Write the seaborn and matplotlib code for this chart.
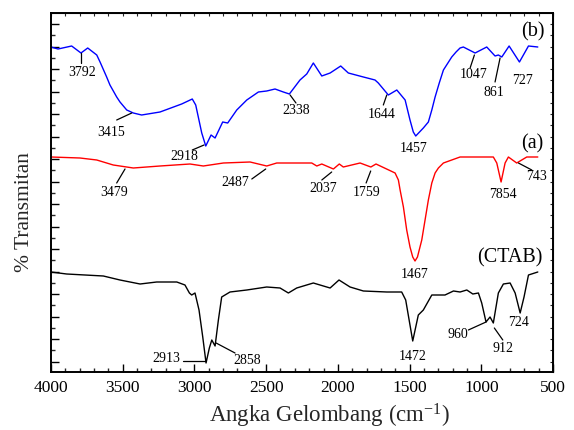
import numpy as np
import pandas as pd
import matplotlib
matplotlib.use('Agg')
import matplotlib.pyplot as plt
import seaborn as sns
from matplotlib.ticker import MultipleLocator, FixedLocator, NullFormatter

# ---- data (wavenumber cm-1, relative transmittance, arbitrary units) ----
wn_b = [4000, 3951, 3856, 3791, 3744, 3681, 3658, 3612, 3589, 3542, 3519, 3472,
        3426, 3368, 3240, 3089,
        3015, 2991, 2949, 2921, 2884, 2856, 2803, 2768, 2705, 2635, 2554, 2496,
        2438, 2380, 2338, 2264, 2217, 2171, 2112, 2054, 1980, 1927, 1822, 1741,
        1718, 1648, 1589, 1531, 1497, 1474, 1457, 1404, 1369, 1345, 1322, 1293,
        1264, 1206, 1176, 1148,
        1125, 1043, 962, 904, 881, 857, 806, 734, 671, 606]
t_b = [325, 323, 326, 319, 324, 317, 310, 295, 287, 275, 270, 262,
       259, 257, 260, 268,
       273, 267, 239, 226, 237, 234, 250, 249, 262, 272, 280, 281,
       283, 280, 278, 292, 298, 309, 296, 299, 306, 299, 295, 292,
       289, 277, 282, 272, 252, 240, 236, 244, 250, 262, 275, 289,
       302, 315, 320, 324,
       325, 319, 325, 316, 317, 315, 326, 310, 326, 325]

wn_a = [4000, 3798, 3681, 3566, 3426, 3240, 3031, 2938, 2798, 2612, 2496, 2426,
        2264, 2182, 2147, 2112, 2031, 1990, 1962, 1845, 1770, 1734, 1601, 1578,
        1566, 1543, 1520, 1497, 1478, 1462, 1445, 1415, 1392, 1369, 1345, 1322,
        1299, 1264, 1148, 916, 892, 862, 834, 811, 753, 683, 606]
t_a = [215, 214, 212, 207, 204, 206, 208, 206, 209, 210, 206, 209,
       209, 209, 206, 208, 203, 208, 205, 209, 205, 208, 199, 192,
       182, 165, 142, 125, 115, 111, 115, 132, 152, 172, 189, 199,
       204, 209, 215, 215, 209, 190, 209, 215, 209, 215, 215]

wn_c = [4000, 3891, 3635, 3519, 3379, 3263, 3123, 3066, 3035, 3019, 2996, 2968,
        2942, 2919, 2896, 2879, 2856, 2833, 2810, 2752, 2635, 2496, 2403, 2345,
        2287, 2171, 2054, 1992, 1915, 1822, 1659, 1555, 1527, 1478, 1439, 1404,
        1345, 1253, 1194, 1148, 1101, 1059, 1020, 997, 967, 939, 916, 881, 846,
        799, 764, 729, 702, 671, 606]
t_c = [100, 98, 96, 92, 88, 90, 90, 87, 79, 77, 79, 62,
       35, 9, 24, 32, 26, 52, 75, 80, 82, 85, 84, 79,
       84, 89, 84, 92, 85, 81, 80, 80, 72, 31, 57, 62,
       77, 77, 81, 80, 82, 78, 79, 69, 50, 55, 49, 79, 88,
       89, 79, 59, 75, 97, 100]

series_names = ['(b)', '(a)', '(CTAB)']
series_colors = ['#0000ff', '#ff0000', '#000000']

# peak labels: (text, text_wn, text_T, leader line or None)
labels_b = [('3792', 3786, 300, (3791, 319, 3791, 309)),
            ('3415', 3582, 240, (3542, 252, 3437, 259)),
            ('2918', 3070, 215, (3015, 222, 2933, 227)),
            ('2338', 2294, 261, (2333, 277, 2292, 269)),
            ('1644', 1694, 257, (1659, 277, 1683, 267)),
            ('1457', 1474, 224, None),
            ('1047', 1055, 297, (1048, 317, 1078, 304)),
            ('861', 909, 279, (869, 314, 904, 290)),
            ('727', 711, 292, None)]
labels_a = [('3479', 3559, 179, (3542, 189, 3484, 203)),
            ('2487', 2717, 190, (2600, 193, 2503, 203)),
            ('2037', 2101, 183, (2112, 192, 2043, 200)),
            ('1759', 1803, 179, (1803, 189, 1771, 201)),
            ('1467', 1462, 98, None),
            ('7854', 846, 178, None),
            ('743', 613, 195, (741, 209, 648, 202))]
labels_c = [('2913', 3193, 13, (3077, 11, 2926, 11)),
            ('2858', 2635, 12, (2849, 29, 2717, 19)),
            ('1472', 1481, 16, None),
            ('960', 1160, 38, (1090, 42, 967, 50)),
            ('912', 850, 24, (909, 44, 850, 32)),
            ('724', 741, 49, None)]
tags = [('(b)', 641, 340), ('(a)', 648, 228), ('(CTAB)', 799, 114)]

# ---- style ----
sns.set_style('ticks')
plt.rcParams['font.family'] = ['Liberation Serif', 'DejaVu Serif']
plt.rcParams['mathtext.fontset'] = 'custom'
plt.rcParams['mathtext.rm'] = 'Liberation Serif'
plt.rcParams['mathtext.it'] = 'Liberation Serif:italic'

fig = plt.figure(figsize=(5.74, 4.30), dpi=100)
ax = fig.add_axes([51/574, 1-372/430, 502/574, 359/430])

df = pd.concat([
    pd.DataFrame({'wn': wn_b, 'T': t_b, 'sample': series_names[0]}),
    pd.DataFrame({'wn': wn_a, 'T': t_a, 'sample': series_names[1]}),
    pd.DataFrame({'wn': wn_c, 'T': t_c, 'sample': series_names[2]}),
], ignore_index=True)

sns.lineplot(data=df, x='wn', y='T', hue='sample', units='sample',
             palette=dict(zip(series_names, series_colors)),
             estimator=None, sort=False, linewidth=1.0, legend=False, ax=ax)

ax.set_xlim(4000, 500)
ax.set_ylim(0, 359)
ax.set_xlabel('')
ax.set_ylabel('')

ax.xaxis.set_major_locator(MultipleLocator(500))
ax.xaxis.set_minor_locator(MultipleLocator(100))
ymaj = np.arange(10.3, 359, 22.5)
ymin = np.arange(21.55, 359, 22.5)
ax.yaxis.set_major_locator(FixedLocator(ymaj))
ax.yaxis.set_minor_locator(FixedLocator(ymin))
ax.yaxis.set_major_formatter(NullFormatter())
ax.tick_params(axis='both', which='major', direction='in', length=6, width=1.0,
               labelsize=12.5, colors='black')
ax.tick_params(axis='both', which='minor', direction='in', length=3.2, width=1.0)
ax.tick_params(axis='x', which='major', pad=6)
for s in ax.spines.values():
    s.set_linewidth(1.4)
    s.set_visible(True)
    s.set_color('black')

# right & top short ticks
secy = ax.secondary_yaxis('right')
secy.yaxis.set_major_locator(FixedLocator(np.arange(10.3, 359, 11.25)))
secy.yaxis.set_major_formatter(NullFormatter())
secy.tick_params(direction='in', length=2.5, width=0.8)
secx = ax.secondary_xaxis('top')
secx.xaxis.set_major_locator(MultipleLocator(100))
secx.xaxis.set_major_formatter(NullFormatter())
secx.tick_params(direction='in', length=2.5, width=0.8)

# peak labels
for group in (labels_b, labels_a, labels_c):
    for txt, x, y, line in group:
        ax.text(x, y, txt, ha='center', va='center', fontsize=10, color='black')
        if line is not None:
            ax.plot([line[0], line[2]], [line[1], line[3]], color='black', lw=0.9)
for txt, x, y in tags:
    ax.text(x, y, txt, ha='center', va='center', fontsize=14.5, color='black')

fig.text(330/574, 1-416/430, 'Angka Gelombang (cm$^{\\mathregular{-1}}$)',
         ha='center', va='center', fontsize=16.5)
fig.text(25/574, 1-212/430, '% Transmitan', rotation=90, ha='center',
         va='center', fontsize=15.5)

fig.savefig('out.png', dpi=100)
